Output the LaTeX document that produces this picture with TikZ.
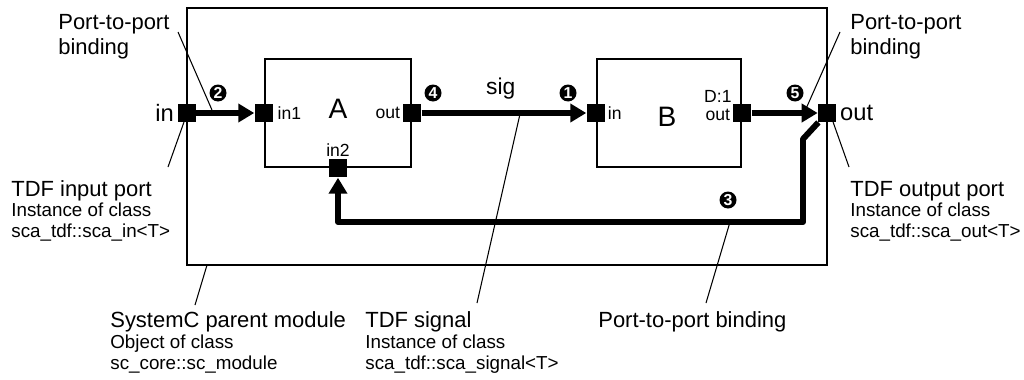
\documentclass[tikz,border=0pt]{standalone}
\usepackage{fontspec}
\setmainfont{Liberation Sans}
\usetikzlibrary{positioning, arrows.meta}

\tikzset{
  port/.style={fill=black, minimum size=0.36cm, inner sep=0pt},
  module/.style={draw, line width=1.6pt, minimum width=2.92cm, minimum height=2.16cm},
  wire/.style={line width=3.4pt, -{Triangle[length=0.32cm, width=0.36cm]}},
  pointer/.style={line width=0.6pt},
  num/.style={circle, fill=black, text=white, inner sep=0pt, minimum size=0.34cm,
    font=\fontsize{9}{9}\selectfont\bfseries},
  big/.style={font=\fontsize{12.5}{15}\selectfont, inner sep=0pt},
  small/.style={font=\fontsize{10.7}{13}\selectfont, inner sep=0pt},
  portname/.style={font=\fontsize{13.5}{16}\selectfont, inner sep=0pt},
  pin/.style={font=\fontsize{10}{12}\selectfont, inner sep=1.5pt},
}

\begin{document}
\begin{tikzpicture}[x=0.02cm, y=-0.02cm]
\useasboundingbox (0,0) rectangle (1024,379);

% parent module
\draw[line width=0.7pt] (187,8) rectangle (827,265);

% child modules
\node[module] (A) at (338,113) {};
\node[module, minimum width=2.88cm] (B) at (669,113) {};
\node[font=\fontsize{16}{18}\selectfont, inner sep=0pt] (Aname) at (338,109) {A};
\node[font=\fontsize{16}{18}\selectfont, inner sep=0pt] (Bname) at (667,117) {B};

% ports
\node[port] (in) at (187,113) {};
\node[port] (out) at (827,113) {};
\node[port] (Ain1) at (A.west) {};
\node[port] (Aout) at (A.east) {};
\node[port] (Ain2) at (A.south) {};
\node[port] (Bin) at (B.west) {};
\node[port] (Bout) at (B.east) {};

% port names
\node[portname, anchor=east] (inlbl) at ([xshift=-2pt]in.west) {in};
\node[portname, anchor=west] (outlbl) at ([xshift=2pt]out.east) {out};
\node[pin, anchor=west] (Ain1lbl) at ([xshift=1pt]Ain1.east) {in1};
\node[pin, anchor=east] (Aoutlbl) at (Aout.west) {out};
\node[pin, anchor=south] (Ain2lbl) at (Ain2.north) {in2};
\node[pin, anchor=west] (Binlbl) at (Bin.east) {in};
\node[pin, anchor=east] (Boutlbl) at ([yshift=-1pt]Bout.west) {out};
\node[pin, anchor=south, inner sep=0pt] (Bdelay) at ([yshift=2pt]Boutlbl.north) {D:1};

% bindings and signal
\draw[wire] (in) -- (Ain1);
\draw[wire] (Aout) -- node[portname, font=\fontsize{13}{15}\selectfont, above=6pt, pos=0.48] (sig) {sig} (Bin);
\draw[wire] (Bout) -- (out);
\coordinate (bend) at (803,139);
\coordinate (low) at (803,222);
\draw[wire, line join=round] (out) -- (bend) -- (low) -- (low -| Ain2) -- (Ain2);

% numbers
\node[num] (n1) at (568,93) {1};
\node[num] (n2) at (218,93) {2};
\node[num] (n3) at (728,200) {3};
\node[num] (n4) at (433,93) {4};
\node[num] (n5) at (795,93) {5};

% annotations
\node[big, anchor=base west] (p2pL) at (58,29) {Port-to-port};
\node[big, anchor=base west] (p2pLb) at (58,54) {binding};
\node[big, anchor=base west] (p2pR) at (850,29) {Port-to-port};
\node[big, anchor=base west] (p2pRb) at (850,54) {binding};

\node[big, anchor=base west] (tdfin) at (11,196) {TDF input port};
\node[small, anchor=base west] (tdfin2) at (11,216) {Instance of class};
\node[small, anchor=base west] (tdfin3) at (11,237) {sca\_tdf::sca\_in<T>};

\node[big, anchor=base west] (tdfout) at (850,196) {TDF output port};
\node[small, anchor=base west] (tdfout2) at (850,216) {Instance of class};
\node[small, anchor=base west] (tdfout3) at (850,237) {sca\_tdf::sca\_out<T>};

\node[big, anchor=base west] (parent) at (110,327) {SystemC parent module};
\node[small, anchor=base west] (parent2) at (110,348) {Object of class};
\node[small, anchor=base west] (parent3) at (110,369) {sc\_core::sc\_module};

\node[big, anchor=base west] (signal) at (365,327) {TDF signal};
\node[small, anchor=base west] (signal2) at (365,348) {Instance of class};
\node[small, anchor=base west] (signal3) at (365,369) {sca\_tdf::sca\_signal<T>};

\node[big, anchor=base west] (p2pB) at (598,327) {Port-to-port binding};

% pointer lines
\draw[pointer] (178,32) -- (212,110);
\draw[pointer] (184,122) -- (168,167);
\draw[pointer] (840,32) -- (805,111);
\draw[pointer] (832,119) -- (849,167);
\draw[pointer] (207,265) -- (195,305);
\draw[pointer] (520,114) -- (477,303);
\draw[pointer] (730,222) -- (706,303);
\end{tikzpicture}
\end{document}
